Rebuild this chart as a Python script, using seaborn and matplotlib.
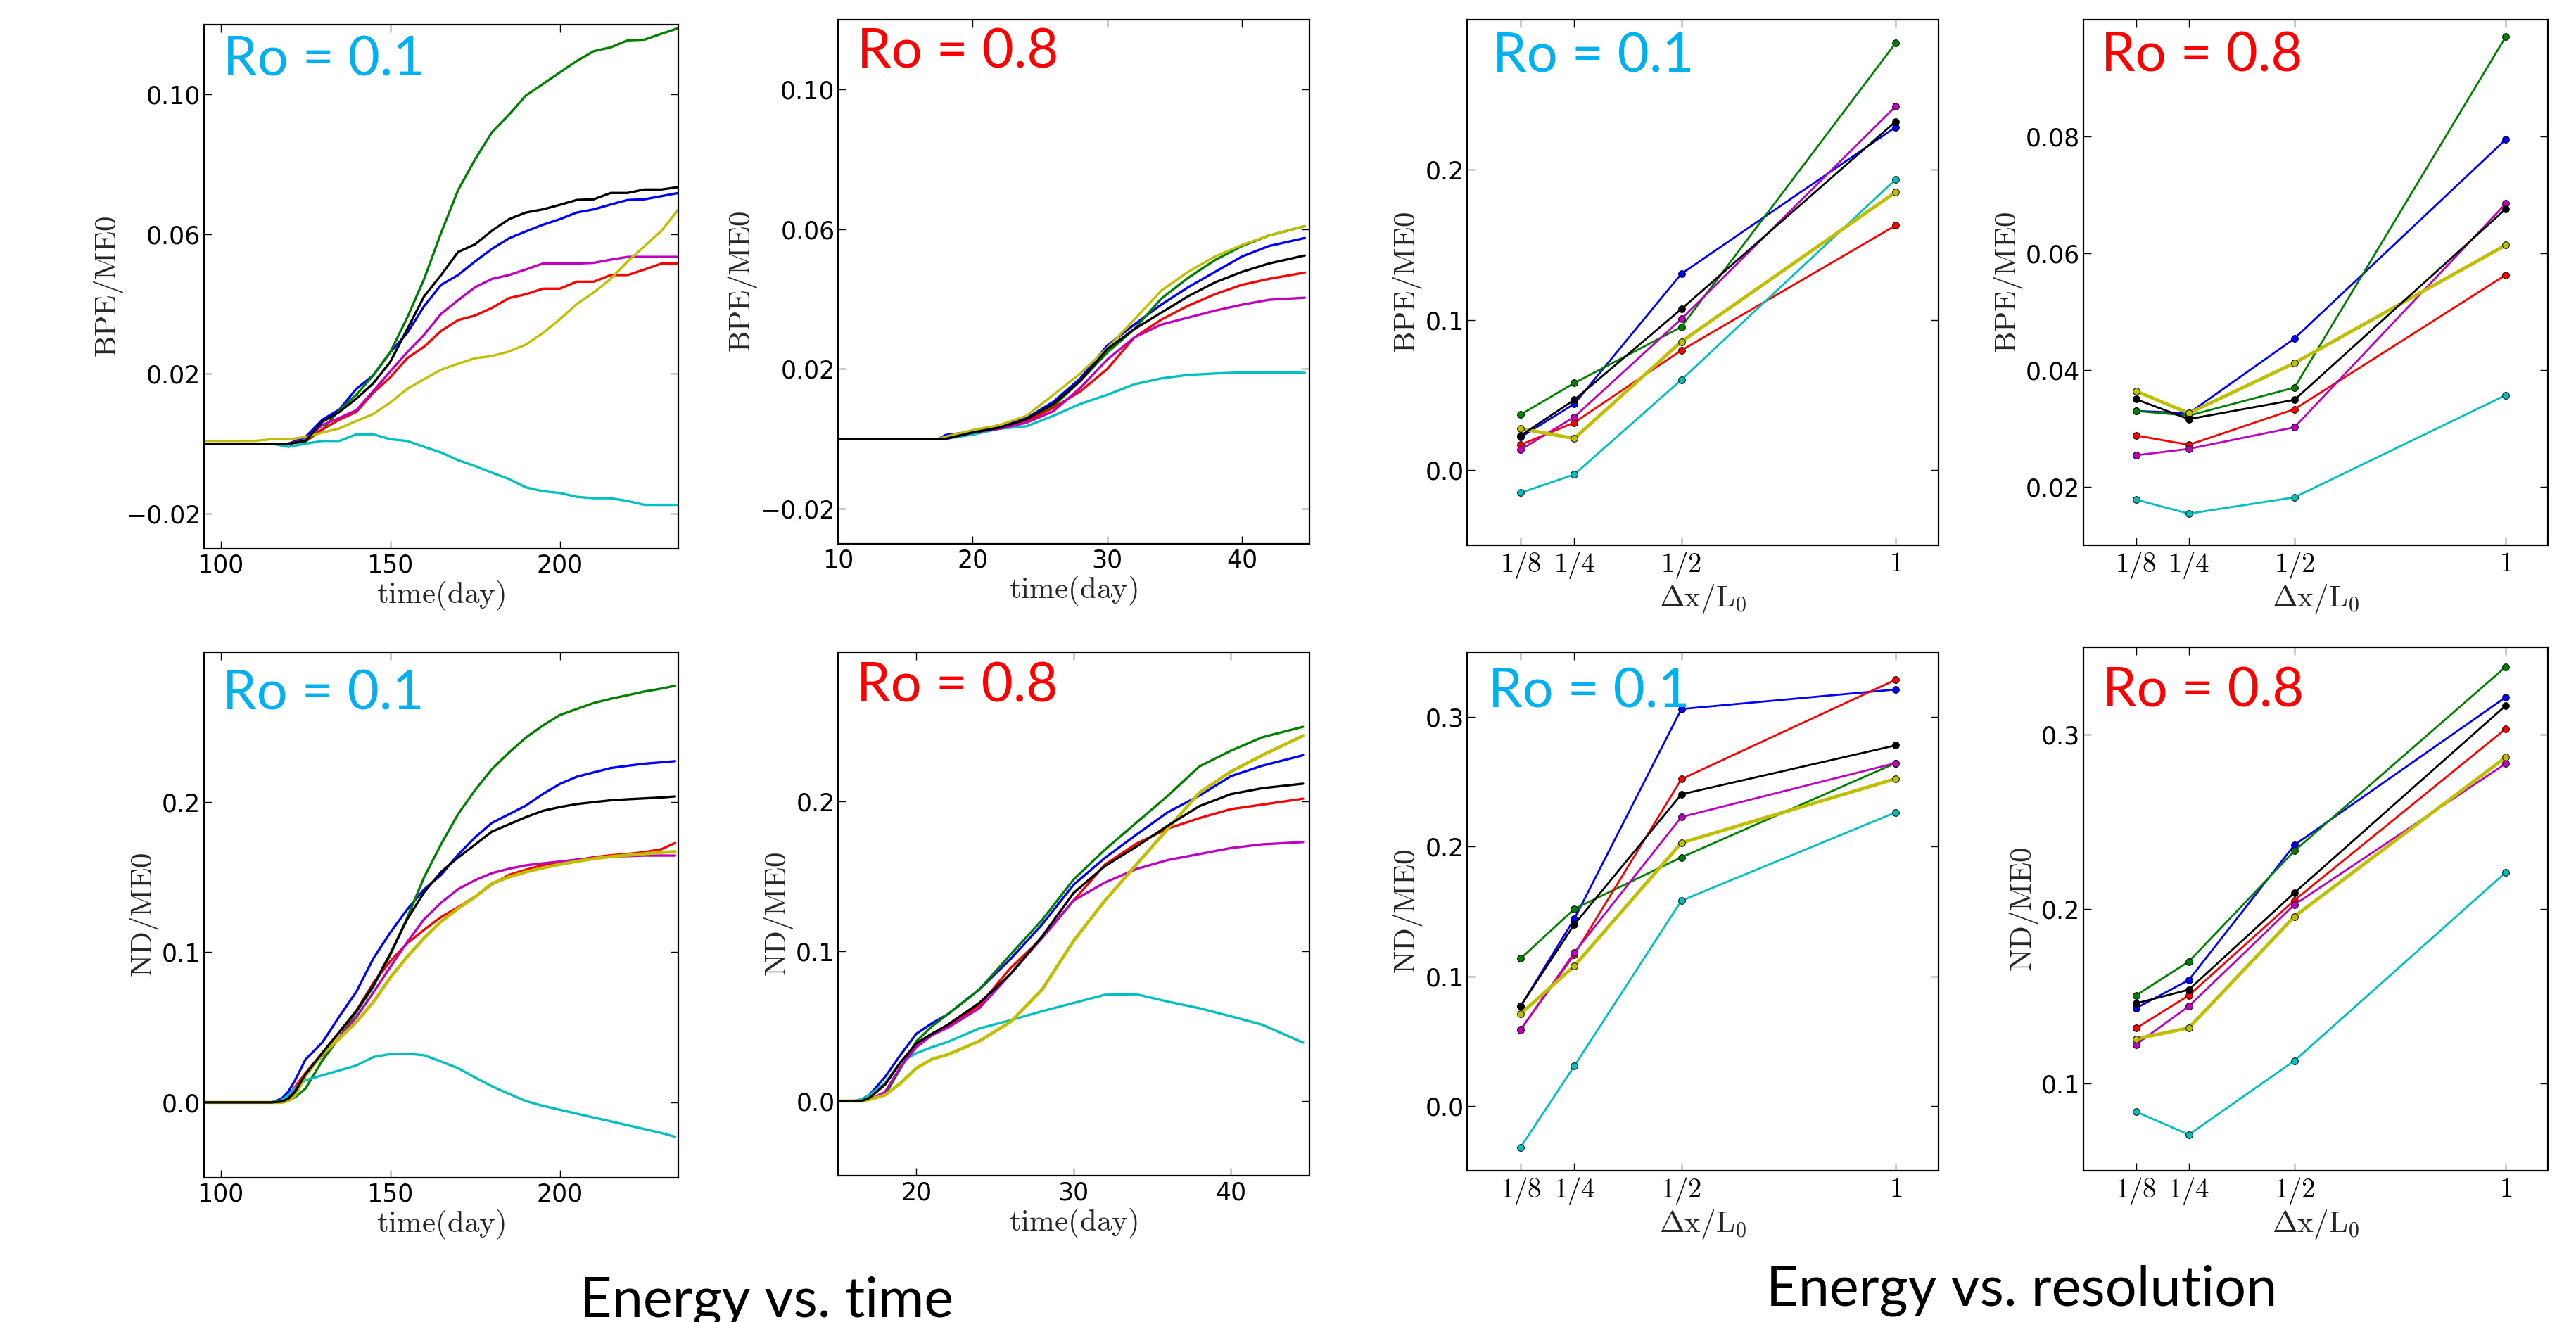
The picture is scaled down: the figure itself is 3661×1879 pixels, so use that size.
import matplotlib
matplotlib.use("Agg")
import matplotlib.pyplot as plt
import seaborn as sns
import pandas as pd

# ---------------- data ----------------
colors = {"b": "#0000FF", "g": "#008000", "r": "#FF0000", "c": "#00BFBF",
          "m": "#BF00BF", "y": "#BFBF00", "k": "#000000"}
order = ["b", "g", "r", "c", "m", "y", "k"]

# Panel 1: BPE/ME0 vs time, Ro = 0.1
t1 = [95, 100, 105, 110, 115, 120, 125, 130, 135, 140, 145, 150, 155, 160, 165, 170,
      175, 180, 185, 190, 195, 200, 205, 210, 215, 220, 225, 230, 235]
p1_b = [0, 0, 0, 0, 0, 0, .0019, .0069, .0098, .0157, .0196, .0262, .0317, .0394, .0455, .0483,
        .0522, .0558, .0588, .0608, .0627, .0643, .0662, .0671, .0685, .0698, .0700, .0709, .0718]
p1_g = [0, 0, 0, 0, 0, 0, .0006, .0041, .0096, .0140, .0196, .0262, .0361, .0472, .0604, .0726,
        .0814, .0892, .0942, .0997, .1030, .1063, .1096, .1124, .1135, .1155, .1157, .1174, .1190]
p1_r = [0, 0, 0, 0, 0, 0, .0010, .0041, .0069, .0091, .0146, .0190, .0245, .0278, .0323, .0354,
        .0367, .0389, .0417, .0428, .0444, .0444, .0464, .0464, .0483, .0483, .0499, .0516, .0516]
p1_c = [0, 0, 0, 0, 0, -.0009, 0, .0008, .0008, .0027, .0027, .0013, .0008, -.0009, -.0025, -.0047,
        -.0064, -.0083, -.0101, -.0125, -.0136, -.0141, -.0152, -.0156, -.0156, -.0164, -.0175, -.0175, -.0175]
p1_m = [0, 0, 0, 0, 0, 0, .0010, .0054, .0074, .0096, .0151, .0207, .0262, .0312, .0372, .0411,
        .0448, .0472, .0483, .0499, .0516, .0516, .0516, .0518, .0527, .0535, .0535, .0535, .0535]
p1_y = [.0008, .0008, .0008, .0008, .0013, .0013, .0019, .0032, .0044, .0065, .0085, .0118, .0157, .0185,
        .0212, .0229, .0245, .0251, .0264, .0284, .0317, .0356, .0400, .0433, .0472, .0522, .0566, .0610, .0671]
p1_k = [0, 0, 0, 0, 0, 0, .0008, .0063, .0091, .0129, .0173, .0234, .0328, .0422, .0483, .0549,
        .0571, .0610, .0643, .0662, .0671, .0684, .0698, .0700, .0718, .0718, .0728, .0728, .0735]

# Panel 2: BPE/ME0 vs time, Ro = 0.8
t2 = [10, 17.5, 18, 20, 22, 24, 26, 28, 30, 32, 34, 36, 38, 40, 42, 44.66]
p2_b = [0, 0, .0011, .0020, .0039, .0059, .0106, .0173, .0267, .0327, .0384, .0434, .0478, .0522, .0552, .0575]
p2_g = [0, 0, 0, .0020, .0032, .0053, .0093, .0166, .0247, .0314, .0401, .0461, .0512, .0552, .0582, .0609]
p2_r = [0, 0, 0, .0018, .0029, .0049, .0089, .0136, .0200, .0290, .0341, .0381, .0414, .0441, .0458, .0476]
p2_c = [0, 0, 0, .0012, .0029, .0036, .0066, .0100, .0126, .0156, .0173, .0183, .0187, .0190, .0190, .0189]
p2_m = [0, 0, 0, .0018, .0029, .0046, .0079, .0146, .0227, .0290, .0327, .0347, .0367, .0384, .0398, .0404]
p2_y = [0, 0, .0006, .0025, .0039, .0066, .0126, .0187, .0260, .0341, .0424, .0478, .0522, .0555, .0582, .0609]
p2_k = [0, 0, 0, .0018, .0032, .0056, .0100, .0166, .0257, .0314, .0361, .0408, .0448, .0478, .0502, .0525]

# Panel 5: ND/ME0 vs time, Ro = 0.1
t5 = [95, 100, 105, 110, 115, 118, 120, 122, 125, 130, 135, 140, 145, 150, 155, 160, 165, 170,
      175, 180, 185, 190, 195, 200, 205, 210, 215, 220, 225, 230, 234]
p5_b = [0, 0, 0, 0, 0, .0025, .0073, .0150, .0285, .0400, .0573, .0737, .0958, .1131, .1285, .1419,
        .1515, .1650, .1765, .1862, .1919, .1977, .2054, .2121, .2169, .2198, .2227, .2242, .2256, .2265, .2273]
p5_g = [0, 0, 0, 0, 0, .0006, .0015, .0035, .0092, .0280, .0430, .0600, .0770, .0980, .1230, .1500,
        .1720, .1920, .2080, .2220, .2330, .2430, .2510, .2580, .2620, .2660, .2688, .2712, .2737, .2756, .2775]
p5_r = [0, 0, 0, 0, 0, .0006, .0041, .0106, .0195, .0330, .0465, .0610, .0795, .0940, .1060, .1150,
        .1235, .1300, .1370, .1452, .1515, .1550, .1580, .1596, .1613, .1633, .1646, .1655, .1667, .1687, .1728]
p5_c = [0, 0, 0, 0, 0, .0015, .0050, .0098, .0147, .0181, .0213, .0246, .0302, .0322, .0324, .0314,
        .0272, .0228, .0166, .0107, .0057, .0009, -.0023, -.0049, -.0075, -.0101, -.0126, -.0152, -.0178, -.0204, -.0229]
p5_m = [0, 0, 0, 0, 0, 0, .0028, .0080, .0190, .0310, .0432, .0568, .0732, .0901, .1068, .1220,
        .1330, .1420, .1480, .1527, .1556, .1579, .1592, .1604, .1617, .1628, .1636, .1640, .1644, .1644, .1644]
p5_y = [0, 0, 0, 0, 0, 0, .0011, .0049, .0178, .0321, .0425, .0536, .0668, .0831, .0970, .1095,
        .1205, .1291, .1368, .1458, .1501, .1535, .1562, .1585, .1605, .1623, .1637, .1646, .1656, .1665, .1671]
p5_k = [0, 0, 0, 0, 0, .0006, .0025, .0073, .0188, .0330, .0470, .0610, .0780, .0990, .1220, .1400,
        .1535, .1631, .1717, .1804, .1852, .1900, .1942, .1967, .1987, .2000, .2012, .2019, .2025, .2031, .2038]

# Panel 6: ND/ME0 vs time, Ro = 0.8
t6 = [15, 16, 16.5, 17, 18, 19, 20, 21, 22, 24, 26, 28, 30, 32, 34, 36, 38, 40, 42, 44.6]
p6_b = [0, 0, .001, .004, .016, .031, .045, .052, .058, .0745, .095, .118, .1445, .1625, .178, .193, .204, .217, .224, .231]
p6_g = [0, 0, 0, .001, .004, .022, .040, .050, .058, .0745, .098, .121, .148, .168, .186, .204, .2235, .234, .243, .250]
p6_r = [0, 0, 0, .002, .011, .026, .038, .045, .050, .064, .089, .109, .134, .158, .172, .182, .189, .195, .198, .202]
p6_c = [0, 0, .001, .004, .012, .026, .032, .036, .0395, .0485, .054, .060, .0655, .071, .0713, .0664, .062, .0566, .051, .039]
p6_m = [0, 0, 0, .001, .006, .023, .036, .044, .049, .062, .085, .109, .134, .146, .155, .161, .165, .169, .1715, .173]
p6_y = [0, 0, 0, .001, .004, .012, .022, .028, .031, .040, .053, .0745, .107, .134, .158, .182, .206, .220, .231, .244]
p6_k = [0, 0, 0, .002, .011, .026, .0386, .045, .051, .0655, .085, .110, .139, .157, .170, .184, .197, .205, .209, .212]

# Resolution panels
res_x = [0.125, 0.25, 0.5, 1.0]
res_ticklabels = [r"$1/8$", r"$1/4$", r"$1/2$", r"$1$"]

p3_b = [0.022, 0.0441, 0.1308, 0.2285]
p3_g = [0.037, 0.058, 0.0954, 0.2845]
p3_r = [0.0169, 0.0317, 0.0798, 0.163]
p3_c = [-0.0151, -0.0029, 0.0602, 0.1937]
p3_m = [0.0137, 0.0354, 0.1007, 0.2423]
p3_y = [0.0277, 0.0211, 0.0856, 0.1852]
p3_k = [0.023, 0.0468, 0.1073, 0.2322]

p4_b = [0.033, 0.0326, 0.0454, 0.0795]
p4_g = [0.033, 0.0322, 0.037, 0.0971]
p4_r = [0.0288, 0.0272, 0.0333, 0.0563]
p4_c = [0.0178, 0.0154, 0.0182, 0.0357]
p4_m = [0.0254, 0.0265, 0.0302, 0.0685]
p4_y = [0.0364, 0.0326, 0.0412, 0.0614]
p4_k = [0.035, 0.0316, 0.0349, 0.0676]

p7_b = [0.077, 0.1441, 0.306, 0.3211]
p7_g = [0.1137, 0.1519, 0.1917, 0.2644]
p7_r = [0.059, 0.1167, 0.252, 0.3286]
p7_c = [-0.0317, 0.0308, 0.1583, 0.2264]
p7_m = [0.0588, 0.1182, 0.2228, 0.2644]
p7_y = [0.0711, 0.1079, 0.2029, 0.2523]
p7_k = [0.0772, 0.1399, 0.2403, 0.278]

p8_b = [0.1432, 0.1593, 0.2367, 0.3213]
p8_g = [0.1505, 0.1699, 0.2333, 0.3387]
p8_r = [0.1317, 0.1505, 0.205, 0.3032]
p8_c = [0.0839, 0.0708, 0.1131, 0.221]
p8_m = [0.1224, 0.1443, 0.2025, 0.2833]
p8_y = [0.1256, 0.1319, 0.1957, 0.2869]
p8_k = [0.1459, 0.1538, 0.2093, 0.3165]

bpe_yticks = [-0.02, 0.02, 0.06, 0.10]
bpe_yticklabels = ["\u22120.02", "0.02", "0.06", "0.10"]
nd_time_yticks = [0.0, 0.1, 0.2]
nd_time_yticklabels = ["0.0", "0.1", "0.2"]
p3_yticks = [0.0, 0.1, 0.2]
p3_yticklabels = ["0.0", "0.1", "0.2"]
p4_yticks = [0.02, 0.04, 0.06, 0.08]
p4_yticklabels = ["0.02", "0.04", "0.06", "0.08"]
p7_yticks = [0.0, 0.1, 0.2, 0.3]
p7_yticklabels = ["0.0", "0.1", "0.2", "0.3"]
p8_yticks = [0.1, 0.2, 0.3]
p8_yticklabels = ["0.1", "0.2", "0.3"]

ro_labels = ["Ro = 0.1", "Ro = 0.8"]
ro_colors = ["#00B0F0", "#FF0000"]
bottom_titles = ["Energy vs. time", "Energy vs. resolution"]

# ---------------- style ----------------
sns.set_style("ticks")
plt.rcParams.update({
    "font.family": ["DejaVu Sans"],
    "mathtext.fontset": "cm",
    "xtick.direction": "in", "ytick.direction": "in",
    "xtick.top": True, "ytick.right": True,
    "xtick.major.size": 8, "ytick.major.size": 8,
    "xtick.major.width": 1.0, "ytick.major.width": 1.0,
    "xtick.color": "#000000", "ytick.color": "#000000",
    "axes.edgecolor": "#000000", "axes.linewidth": 1.6,
})

W, H = 1568.0, 805.0
fig = plt.figure(figsize=(36.61, 18.79), dpi=100)


def add_ax(l, t, r, b):
    return fig.add_axes([l / W, 1 - b / H, (r - l) / W, (b - t) / H])


def style_ax(ax, xlim, ylim, xticks, xticklabels, yticks, yticklabels, xlabel, ylabel, tick_fs=25):
    ax.set_xlim(*xlim)
    ax.set_ylim(*ylim)
    ax.set_xticks(xticks)
    ax.set_xticklabels(xticklabels, fontsize=tick_fs)
    ax.set_yticks(yticks)
    ax.set_yticklabels(yticklabels, fontsize=25)
    ax.tick_params(axis="both", which="major", top=True, right=True,
                   direction="in", length=8)
    ax.tick_params(axis="x", pad=5)
    ax.tick_params(axis="y", pad=3)
    ax.set_xlabel(xlabel, fontsize=31, labelpad=2)
    ax.set_ylabel(ylabel, fontsize=31, labelpad=1)
    for s in ax.spines.values():
        s.set_linewidth(1.6)
        s.set_color("#000000")


def draw_time(ax, t, series, thick_y):
    for key in order:
        lw = 3.3 if (key == "y" and thick_y) else 2.4
        sns.lineplot(x=t, y=series[key], ax=ax, color=colors[key], linewidth=lw,
                     estimator=None, sort=False)


def draw_res(ax, series):
    for key in order:
        lw = 3.5 if key == "y" else 2.0
        sns.lineplot(x=res_x, y=series[key], ax=ax, color=colors[key], linewidth=lw,
                     estimator=None, sort=False, marker="o", markersize=7,
                     markeredgecolor="#000000", markeredgewidth=0.7)


def ro_text(ax, idx, x, y):
    ax.text(x, y, ro_labels[idx], transform=ax.transAxes, color=ro_colors[idx],
            fontsize=56, family=["Lato", "DejaVu Sans"], va="baseline", ha="left")


tlabel = r"$\mathrm{time(day)}$"
rlabel = r"$\Delta\mathrm{x/L_0}$"

# Panel 1
ax = add_ax(124, 15, 413, 334)
draw_time(ax, t1, dict(b=p1_b, g=p1_g, r=p1_r, c=p1_c, m=p1_m, y=p1_y, k=p1_k), False)
style_ax(ax, (95, 235), (-0.03, 0.12), [100, 150, 200], ["100", "150", "200"],
         bpe_yticks, bpe_yticklabels, tlabel, r"$\mathrm{BPE/ME0}$")
ro_text(ax, 0, 0.041, 0.902)

# Panel 2
ax = add_ax(510, 12, 797, 331)
draw_time(ax, t2, dict(b=p2_b, g=p2_g, r=p2_r, c=p2_c, m=p2_m, y=p2_y, k=p2_k), False)
style_ax(ax, (10, 45), (-0.03, 0.12), [10, 20, 30, 40], ["10", "20", "30", "40"],
         bpe_yticks, bpe_yticklabels, tlabel, r"$\mathrm{BPE/ME0}$")
ro_text(ax, 1, 0.041, 0.908)

# Panel 3
ax = add_ax(893, 12, 1180, 332)
draw_res(ax, dict(b=p3_b, g=p3_g, r=p3_r, c=p3_c, m=p3_m, y=p3_y, k=p3_k))
style_ax(ax, (0, 1.1), (-0.05, 0.3), res_x, res_ticklabels,
         p3_yticks, p3_yticklabels, rlabel, r"$\mathrm{BPE/ME0}$", tick_fs=28)
ro_text(ax, 0, 0.053, 0.900)

# Panel 4
ax = add_ax(1268, 12, 1551, 332)
draw_res(ax, dict(b=p4_b, g=p4_g, r=p4_r, c=p4_c, m=p4_m, y=p4_y, k=p4_k))
style_ax(ax, (0, 1.1), (0.01, 0.1), res_x, res_ticklabels,
         p4_yticks, p4_yticklabels, rlabel, r"$\mathrm{BPE/ME0}$", tick_fs=28)
ro_text(ax, 1, 0.038, 0.902)

# Panel 5
ax = add_ax(124, 397, 413, 717)
draw_time(ax, t5, dict(b=p5_b, g=p5_g, r=p5_r, c=p5_c, m=p5_m, y=p5_y, k=p5_k), True)
style_ax(ax, (95, 235), (-0.05, 0.3), [100, 150, 200], ["100", "150", "200"],
         nd_time_yticks, nd_time_yticklabels, tlabel, r"$\mathrm{ND/ME0}$")
ro_text(ax, 0, 0.039, 0.891)

# Panel 6
ax = add_ax(510, 397, 797, 716)
draw_time(ax, t6, dict(b=p6_b, g=p6_g, r=p6_r, c=p6_c, m=p6_m, y=p6_y, k=p6_k), True)
style_ax(ax, (15, 45), (-0.05, 0.3), [20, 30, 40], ["20", "30", "40"],
         nd_time_yticks, nd_time_yticklabels, tlabel, r"$\mathrm{ND/ME0}$")
ro_text(ax, 1, 0.039, 0.905)

# Panel 7
ax = add_ax(893, 397, 1180, 713)
draw_res(ax, dict(b=p7_b, g=p7_g, r=p7_r, c=p7_c, m=p7_m, y=p7_y, k=p7_k))
style_ax(ax, (0, 1.1), (-0.05, 0.35), res_x, res_ticklabels,
         p7_yticks, p7_yticklabels, rlabel, r"$\mathrm{ND/ME0}$", tick_fs=28)
ro_text(ax, 0, 0.045, 0.893)

# Panel 8
ax = add_ax(1268, 394, 1551, 713)
draw_res(ax, dict(b=p8_b, g=p8_g, r=p8_r, c=p8_c, m=p8_m, y=p8_y, k=p8_k))
style_ax(ax, (0, 1.1), (0.05, 0.35), res_x, res_ticklabels,
         p8_yticks, p8_yticklabels, rlabel, r"$\mathrm{ND/ME0}$", tick_fs=28)
ro_text(ax, 1, 0.042, 0.886)

fig.text(353 / W, 0.004, bottom_titles[0], fontsize=57, family=["Lato", "DejaVu Sans"],
         va="baseline", ha="left", color="#000000")
fig.text(1075 / W, 0.0125, bottom_titles[1], fontsize=57, family=["Lato", "DejaVu Sans"],
         va="baseline", ha="left", color="#000000")

fig.savefig("out.png", dpi=100, facecolor="white")
